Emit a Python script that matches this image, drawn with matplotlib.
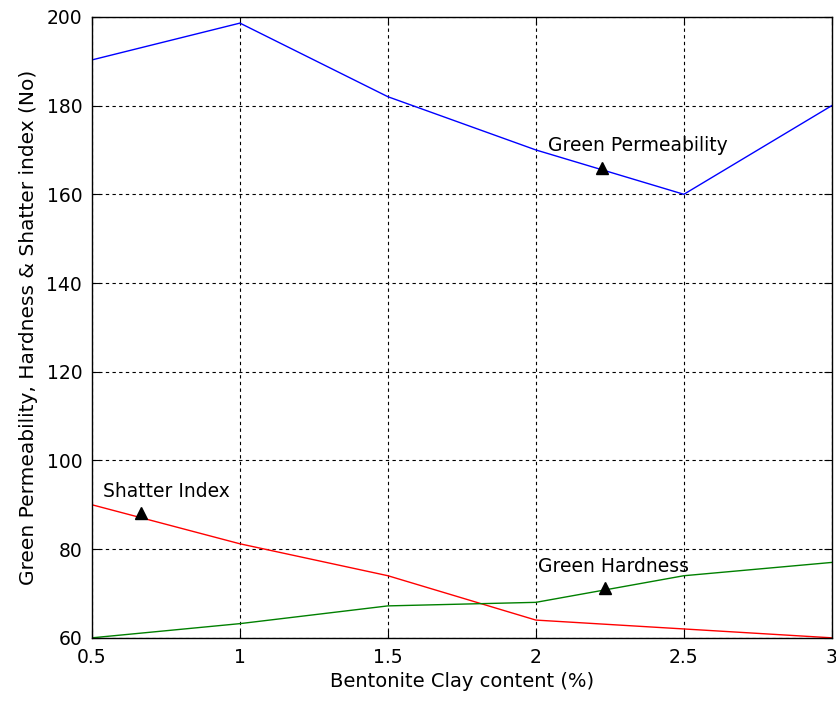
import matplotlib
matplotlib.use("Agg")
import matplotlib.pyplot as plt

# bentonite content (%) and measured properties
clay = [0.5, 1.0, 1.5, 2.0, 2.5, 3.0]
permeability = [190.3, 198.6, 182.0, 170.0, 160.0, 180.0]
shatter = [90.0, 81.2, 74.0, 64.0, 62.0, 60.0]
hardness = [60.0, 63.2, 67.2, 68.0, 74.0, 77.0]

# label positions: (marker x, marker y, text x, text y, text)
labels = [
    (2.223, 166.0, 2.04, 171.0, "Green Permeability"),
    (0.665, 88.2, 0.537, 93.0, "Shatter Index"),
    (2.233, 71.2, 2.007, 76.0, "Green Hardness"),
]

plt.rcParams["font.family"] = ["DejaVu Sans"]
fig = plt.figure(figsize=(8.36, 7.04), dpi=100)
ax = fig.add_axes([0.110, 0.094, 0.885, 0.882])

ax.plot(clay, permeability, color="#0000ff", lw=1.0)
ax.plot(clay, shatter, color="#ff0000", lw=1.0)
ax.plot(clay, hardness, color="#008000", lw=1.0)

for mx, my, tx, ty, txt in labels:
    ax.plot(mx, my, marker="^", color="black", ms=8, ls="none")
    ax.text(tx, ty, txt, fontsize=13.5, va="center", ha="left")

ax.set_xlim(0.5, 3)
ax.set_ylim(60, 200)
ax.set_xticks([0.5, 1, 1.5, 2, 2.5, 3])
ax.set_xticklabels(["0.5", "1", "1.5", "2", "2.5", "3"])
ax.set_yticks(range(60, 201, 20))
ax.grid(True, color="black", linestyle=(0, (3, 3)), linewidth=0.8)
ax.tick_params(direction="in", top=True, right=True, labelsize=13.5,
               length=6, pad=7)
for s in ax.spines.values():
    s.set_linewidth(1.0)

ax.set_xlabel("Bentonite Clay content (%)", fontsize=14, labelpad=4)
ax.set_ylabel("Green Permeability, Hardness & Shatter index (No)",
              fontsize=14.5, labelpad=6)

fig.savefig("out.png", dpi=100)
